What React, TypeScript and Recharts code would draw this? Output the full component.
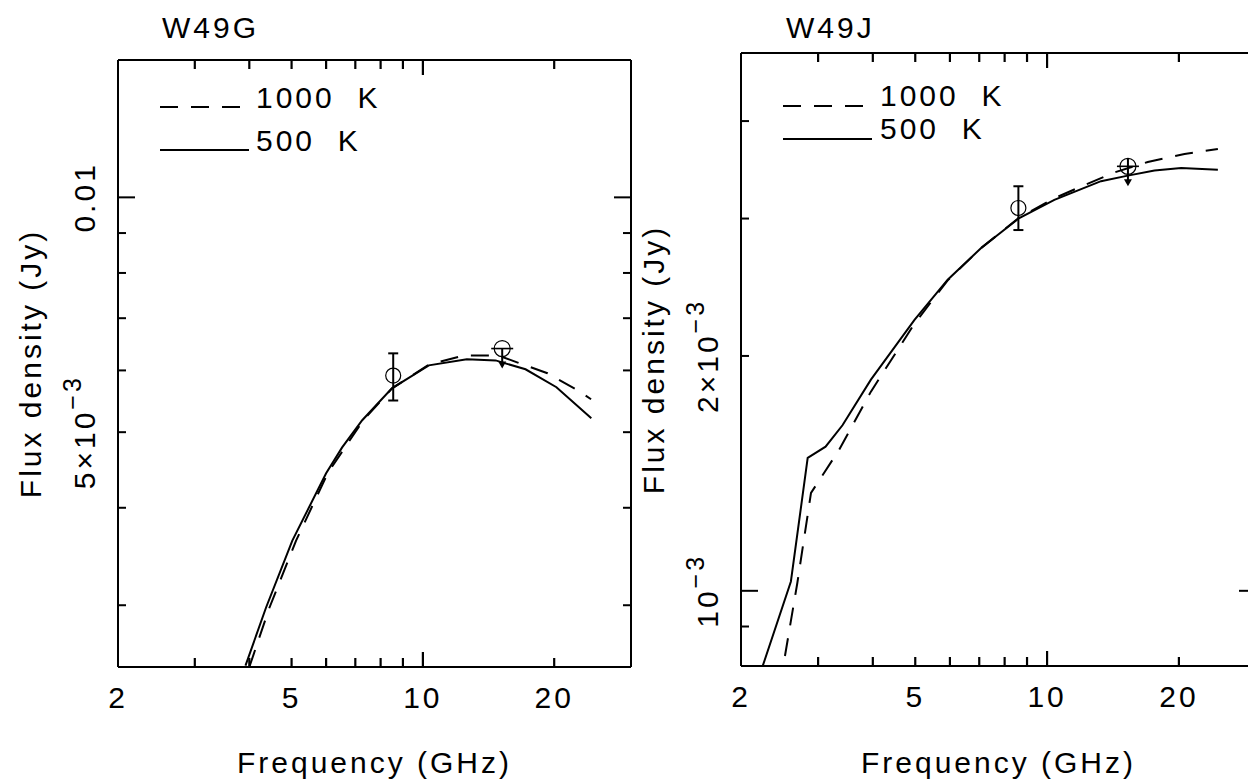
import React from 'react'
import { ComposedChart, Line, Scatter, ErrorBar, XAxis, YAxis, Legend } from 'recharts'

const FONT = '"Liberation Sans", Arial, sans-serif'
const PAGE_W = 1248
const PAGE_H = 782

// shared x ticks (GHz)
const xTicks = [2, 3, 4, 5, 6, 7, 8, 9, 10, 20]
const xTickLabels = [
  { value: 2, text: '2' },
  { value: 5, text: '5' },
  { value: 10, text: '10' },
  { value: 20, text: '20' },
]

// W49G model curves
const w49gFreq1000 = [4.0, 4.45, 5.12, 6.05, 7.3, 8.5, 10.3, 12.4, 14.9, 16.5, 19.3, 22.6, 24.3]
const w49gFlux1000 = [2.5e-3, 2.98e-3, 3.63e-3, 4.43e-3, 5.18e-3, 5.69e-3, 6.1e-3, 6.27e-3, 6.27e-3, 6.14e-3, 5.95e-3, 5.66e-3, 5.51e-3]
const w49gFreq500 = [3.92, 4.37, 5.02, 6.0, 6.53, 7.26, 8.49, 10.32, 12.61, 14.68, 17.19, 20.24, 24.33]
const w49gFlux500 = [2.51e-3, 2.98e-3, 3.63e-3, 4.43e-3, 4.78e-3, 5.18e-3, 5.69e-3, 6.09e-3, 6.2e-3, 6.18e-3, 6.02e-3, 5.71e-3, 5.21e-3]
// W49G measurements
const w49gDetFreq = [8.55]
const w49gDetFlux = [5.91e-3]
const w49gDetErrLow = [0.42e-3]
const w49gDetErrHigh = [0.4e-3]
const w49gLimFreq = [15.2]
const w49gLimFlux = [6.4e-3]
const w49gYTicks = [0.003, 0.004, 0.005, 0.006, 0.007, 0.008, 0.009, 0.01]
const w49gYLabels = [
  { value: 0.005, base: '5×10', sup: '−3' },
  { value: 0.01, base: '0.01', sup: '' },
]

// W49J model curves
const w49jFreq1000 = [2.52, 2.69, 2.89, 3.35, 3.96, 4.98, 5.93, 7.07, 8.64, 10.39, 11.75, 14.22, 16.98, 20.6, 24.55]
const w49jFlux1000 = [0.825e-3, 1.024e-3, 1.335e-3, 1.516e-3, 1.8e-3, 2.2e-3, 2.5e-3, 2.75e-3, 3.01e-3, 3.185e-3, 3.283e-3, 3.436e-3, 3.545e-3, 3.63e-3, 3.684e-3]
const w49jFreq500 = [2.24, 2.6, 2.84, 3.12, 3.41, 3.96, 4.98, 5.93, 7.07, 8.64, 10.39, 13.28, 15.29, 17.59, 20.24, 24.55]
const w49jFlux500 = [0.8e-3, 1.028e-3, 1.48e-3, 1.53e-3, 1.63e-3, 1.865e-3, 2.225e-3, 2.505e-3, 2.75e-3, 3.005e-3, 3.17e-3, 3.35e-3, 3.405e-3, 3.458e-3, 3.483e-3, 3.466e-3]
// W49J measurements
const w49jDetFreq = [8.6]
const w49jDetFlux = [3.095e-3]
const w49jDetErrLow = [0.195e-3]
const w49jDetErrHigh = [0.205e-3]
const w49jLimFreq = [15.3]
const w49jLimFlux = [3.5e-3]
const w49jYTicks = [0.0009, 0.001, 0.002, 0.003, 0.004]
const w49jYLabels = [
  { value: 0.001, base: '10', sup: '−3' },
  { value: 0.002, base: '2×10', sup: '−3' },
]

const legendNames = ['1000  K', '500  K']
const DASH = '18 13'

const toPoints = (f: number[], v: number[]) => f.map((x, i) => ({ f: x, v: v[i] }))
const toErrPoints = (f: number[], v: number[], lo: number[], hi: number[]) =>
  f.map((x, i) => ({ f: x, v: v[i], err: [lo[i], hi[i]] }))

const same = (a: number, b: number) => Math.abs(a - b) < 1e-12
const isDecade = (v: number) => Math.abs(Math.log10(v) - Math.round(Math.log10(v))) < 1e-6

const textStyle = { fontFamily: FONT, fontSize: 30, letterSpacing: 3, fill: '#000', whiteSpace: 'pre' as const }

// axis box sizes inside the chart
const BOTTOM_H = 40
const TOP_H = 20
const LEFT_W = 50
const RIGHT_W = 8

const OpenCircle = (p: any) => (
  <circle cx={p.cx} cy={p.cy} r={7.5} fill="none" stroke="#000" strokeWidth={1.2} />
)

const makeUpperLimit = (cross: boolean) => (p: any) => {
  const { cx, cy } = p
  return (
    <g>
      <circle cx={cx} cy={cy} r={8} fill="none" stroke="#000" strokeWidth={1.2} />
      <line x1={cx - 11} x2={cx + 11} y1={cy} y2={cy} stroke="#000" strokeWidth={1.6} />
      <line x1={cx} x2={cx} y1={cy - (cross ? 8 : 0)} y2={cy + 16} stroke="#000" strokeWidth={2} />
      <path d={`M${cx - 4},${cy + 13} L${cx + 4},${cy + 13} L${cx},${cy + 20} Z`} fill="#000" />
    </g>
  )
}

const panels = [
  {
    title: 'W49G',
    chartLeft: 0,
    chartWidth: 660,
    plot: { left: 118, top: 60, right: 631, bottom: 667 },
    yDomain: [0.0025, 0.015],
    yTicks: w49gYTicks,
    yLabels: w49gYLabels,
    titlePos: { x: 162, y: 38 },
    legend: { x: 150, y: 75, lineX1: 160, lineX2: 249, textX: 256, rows: [107, 150], textRows: [108, 151] },
    dashed: toPoints(w49gFreq1000, w49gFlux1000),
    solid: toPoints(w49gFreq500, w49gFlux500),
    det: toErrPoints(w49gDetFreq, w49gDetFlux, w49gDetErrLow, w49gDetErrHigh),
    lim: toPoints(w49gLimFreq, w49gLimFlux),
    limCross: false,
  },
  {
    title: 'W49J',
    chartLeft: 624,
    chartWidth: 676,
    plot: { left: 741, top: 53, right: 1256, bottom: 666 },
    yDomain: [0.000801, 0.00489],
    yTicks: w49jYTicks,
    yLabels: w49jYLabels,
    titlePos: { x: 786, y: 38 },
    legend: { x: 773, y: 70, lineX1: 783, lineX2: 872, textX: 880, rows: [106, 139], textRows: [106, 139] },
    dashed: toPoints(w49jFreq1000, w49jFlux1000),
    solid: toPoints(w49jFreq500, w49jFlux500),
    det: toErrPoints(w49jDetFreq, w49jDetFlux, w49jDetErrLow, w49jDetErrHigh),
    lim: toPoints(w49jLimFreq, w49jLimFlux),
    limCross: true,
  },
]

function Panel({ cfg }: { cfg: (typeof panels)[number] }) {
  const { plot, chartLeft, chartWidth } = cfg
  const margin = {
    top: plot.top - TOP_H,
    bottom: PAGE_H - plot.bottom - BOTTOM_H,
    left: plot.left - chartLeft - LEFT_W,
    right: chartLeft + chartWidth - plot.right - RIGHT_W,
  }
  const cx = (plot.left + plot.right) / 2 - chartLeft
  const cy = (plot.top + plot.bottom) / 2
  const axisLine = { stroke: '#000', strokeWidth: 2 }

  // bottom axis: inward tick marks plus labels
  const bottomTick = (p: any) => {
    const v = Number(p.payload.value)
    const lab = xTickLabels.find((t) => same(t.value, v))
    const len = isDecade(v) ? 15 : 9
    const x = Number(p.x)
    const y0 = plot.bottom
    return (
      <g>
        {v > 2 && (
          <polyline points={`${x},${y0} ${x},${y0 - len}`} stroke="#000" strokeWidth={2.2} fill="none" />
        )}
        {lab && (
          <text x={x} y={y0 + 41} textAnchor="middle" style={textStyle}>
            {lab.text}
          </text>
        )}
      </g>
    )
  }
  // top axis: inward tick marks only
  const topTick = (p: any) => {
    const v = Number(p.payload.value)
    const len = isDecade(v) ? 15 : 9
    const x = Number(p.x)
    const y0 = plot.top
    if (v <= 2) return <g />
    return <polyline points={`${x},${y0} ${x},${y0 + len}`} stroke="#000" strokeWidth={2.2} fill="none" />
  }
  const leftTick = (p: any) => {
    const v = p.payload.value
    const lab = cfg.yLabels.find((t) => same(t.value, v))
    const len = isDecade(v) ? 17 : 8
    const bx = p.x - 23
    return (
      <g>
        <line x1={p.x} x2={p.x + len} y1={p.y} y2={p.y} stroke="#000" strokeWidth={2} />
        {lab && (
          <text x={bx} y={p.y} transform={`rotate(-90 ${bx} ${p.y})`} textAnchor="middle" style={textStyle}>
            <tspan>{lab.base}</tspan>
            {lab.sup && (
              <tspan dy={-14} style={{ fontSize: 25 }}>
                {lab.sup}
              </tspan>
            )}
          </text>
        )}
      </g>
    )
  }
  const rightTick = (p: any) => {
    const v = p.payload.value
    const len = isDecade(v) ? 17 : 8
    return <line x1={p.x} x2={p.x - len} y1={p.y} y2={p.y} stroke="#000" strokeWidth={2} />
  }

  const lg = cfg.legend
  const legendContent = () => (
    <svg width={300} height={100} style={{ display: 'block' }}>
      {legendNames.map((name, i) => (
        <g key={name}>
          <line
            x1={lg.lineX1 - lg.x}
            x2={lg.lineX2 - lg.x}
            y1={lg.rows[i] - lg.y}
            y2={lg.rows[i] - lg.y}
            stroke="#000"
            strokeWidth={2}
            strokeDasharray={i === 0 ? DASH : undefined}
          />
          <text x={lg.textX - lg.x} y={lg.textRows[i] - lg.y} style={textStyle}>
            {name}
          </text>
        </g>
      ))}
    </svg>
  )

  return (
    <div style={{ position: 'absolute', left: chartLeft, top: 0 }}>
      <ComposedChart width={chartWidth} height={PAGE_H} margin={margin}>
        <XAxis
          xAxisId="b"
          dataKey="f"
          type="number"
          scale="log"
          domain={[2, 30]}
          allowDataOverflow
          ticks={xTicks}
          interval={0}
          height={BOTTOM_H}
          tickSize={0}
          tickMargin={0}
          tickLine={false}
          axisLine={axisLine}
          tick={bottomTick}
          label={{
            content: () => (
              <text x={cx} y={773} textAnchor="middle" style={textStyle}>
                Frequency (GHz)
              </text>
            ),
          }}
        />
        <XAxis
          xAxisId="t"
          orientation="top"
          dataKey="f"
          type="number"
          scale="log"
          domain={[2, 30]}
          allowDataOverflow
          ticks={xTicks}
          interval={0}
          height={TOP_H}
          tickSize={0}
          tickMargin={0}
          tickLine={false}
          axisLine={axisLine}
          tick={topTick}
          label={{
            content: () => (
              <text x={cfg.titlePos.x - chartLeft} y={cfg.titlePos.y} style={textStyle}>
                {cfg.title}
              </text>
            ),
          }}
        />
        <YAxis
          yAxisId="l"
          dataKey="v"
          type="number"
          scale="log"
          domain={cfg.yDomain}
          allowDataOverflow
          ticks={cfg.yTicks}
          interval={0}
          width={LEFT_W}
          tickSize={0}
          tickMargin={0}
          tickLine={false}
          axisLine={axisLine}
          tick={leftTick}
          label={{
            content: () => {
              const bx = plot.left - chartLeft - 77
              return (
                <text x={bx} y={cy} transform={`rotate(-90 ${bx} ${cy})`} textAnchor="middle" style={textStyle}>
                  Flux density (Jy)
                </text>
              )
            },
          }}
        />
        <YAxis
          yAxisId="r"
          orientation="right"
          dataKey="v"
          type="number"
          scale="log"
          domain={cfg.yDomain}
          allowDataOverflow
          ticks={cfg.yTicks}
          interval={0}
          width={RIGHT_W}
          tickSize={0}
          tickMargin={0}
          tickLine={false}
          axisLine={axisLine}
          tick={rightTick}
        />
        <Legend
          layout="vertical"
          align="center"
          verticalAlign="middle"
          wrapperStyle={{ left: lg.x - chartLeft, top: lg.y, width: 300, height: 100 }}
          content={legendContent}
        />
        <Line
          xAxisId="b"
          yAxisId="l"
          data={cfg.dashed}
          dataKey="v"
          name="1000 K"
          type="linear"
          stroke="#000"
          strokeWidth={2}
          strokeDasharray={DASH}
          dot={false}
          isAnimationActive={false}
        />
        <Line
          xAxisId="b"
          yAxisId="l"
          data={cfg.solid}
          dataKey="v"
          name="500 K"
          type="linear"
          stroke="#000"
          strokeWidth={2}
          dot={false}
          isAnimationActive={false}
        />
        <Scatter
          xAxisId="b"
          yAxisId="l"
          data={cfg.det}
          dataKey="v"
          shape={OpenCircle}
          isAnimationActive={false}
        >
          <ErrorBar dataKey="err" direction="y" width={5} stroke="#000" strokeWidth={2} isAnimationActive={false} />
        </Scatter>
        <Scatter
          xAxisId="b"
          yAxisId="l"
          data={cfg.lim}
          dataKey="v"
          shape={makeUpperLimit(cfg.limCross)}
          isAnimationActive={false}
        />
      </ComposedChart>
    </div>
  )
}

export default function App() {
  return (
    <div
      style={{
        position: 'absolute',
        left: 0,
        top: 0,
        width: PAGE_W,
        height: PAGE_H,
        overflow: 'hidden',
        background: '#fff',
      }}
    >
      {panels.map((cfg) => (
        <Panel key={cfg.title} cfg={cfg} />
      ))}
    </div>
  )
}
